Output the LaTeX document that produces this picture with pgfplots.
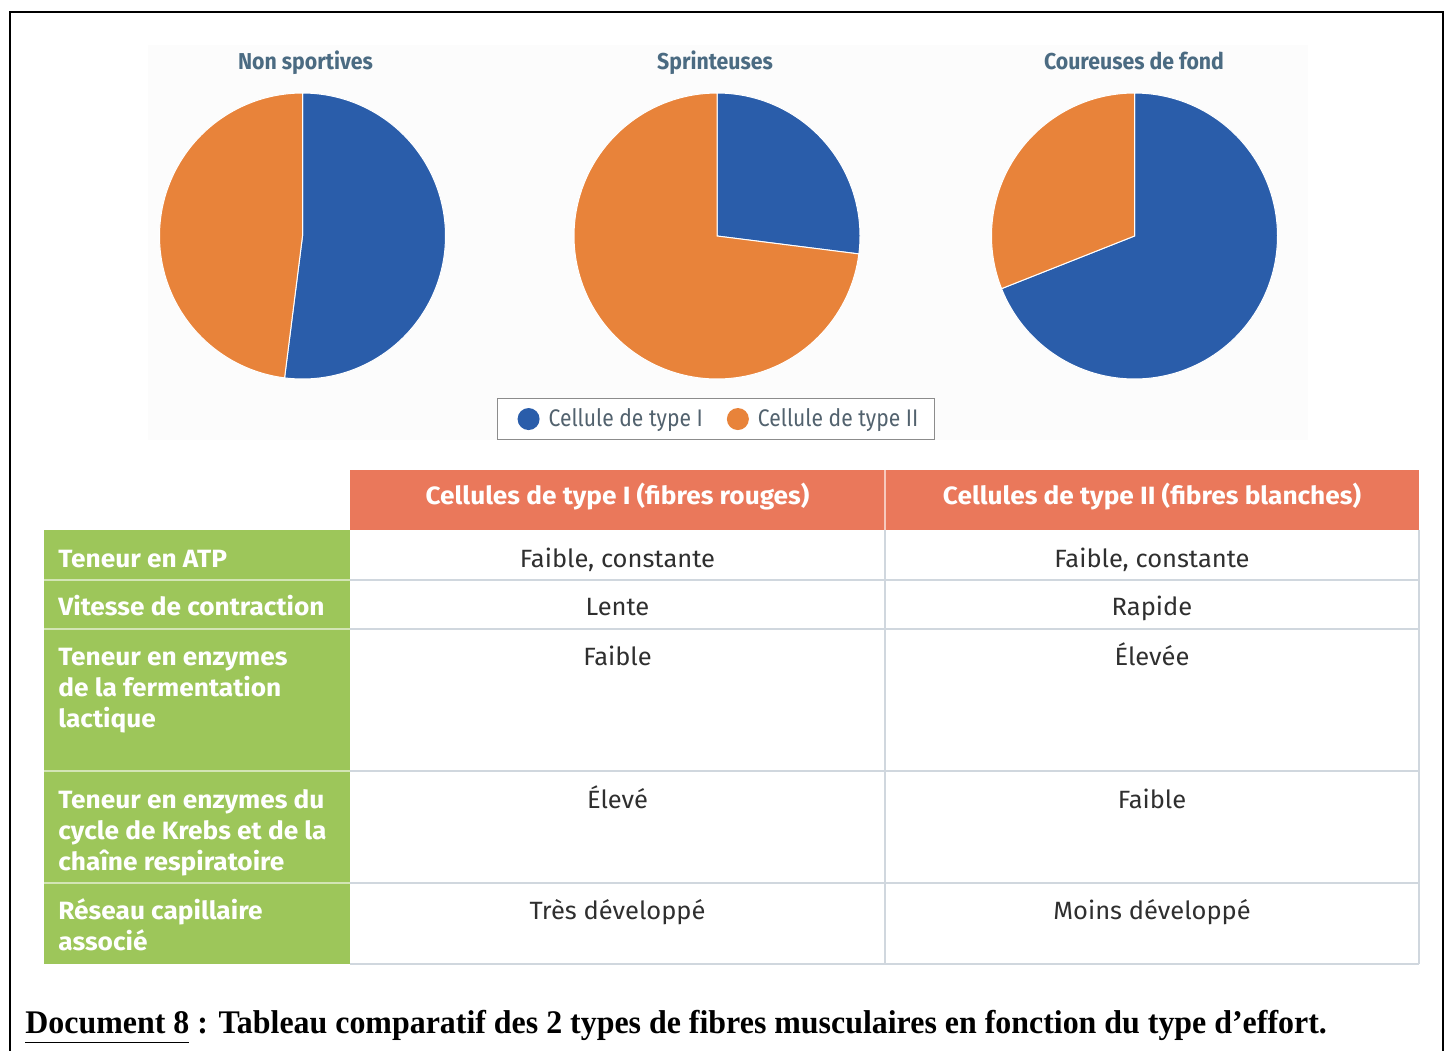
\documentclass[border=0pt]{standalone}
\usepackage{pgfplots}
\pgfplotsset{compat=1.18}
\usepackage{pgfplotstable}
\usepackage{graphicx}
\usepackage{fontspec}
\setmainfont{Fira Sans}
\newfontfamily\capfont{Liberation Serif}
\definecolor{pieblue}{HTML}{2A5DAA}
\definecolor{pieorange}{HTML}{E8833A}
\definecolor{titlecol}{HTML}{4B6B82}
\definecolor{headcol}{HTML}{EA785B}
\definecolor{greencol}{HTML}{9DC65A}
\definecolor{gridcol}{HTML}{D0D7DE}
\definecolor{bodycol}{HTML}{2F2F2F}
\definecolor{legendgray}{HTML}{8C8C8C}
\definecolor{legendtext}{HTML}{52626E}
\newcommand\sx[2]{\scalebox{#1}[1]{#2}}

\pgfplotstableread{
group        typeI typeII
NonSportives 52    48
Sprinteuses  27    73
Coureuses    69    31
}\piedata

\pgfplotsset{pie/.style={hide axis, scale only axis, width=143pt, height=143pt,
  xmin=-1, xmax=1, ymin=-1, ymax=1, clip=false, anchor=center}}

\begin{document}
\begin{tikzpicture}
\pgfplotstablegetelem{0}{typeI}\of\piedata \pgfmathsetmacro\aA{90-3.6*\pgfplotsretval}
\pgfplotstablegetelem{0}{typeII}\of\piedata \pgfmathsetmacro\bA{90+3.6*\pgfplotsretval}
\pgfplotstablegetelem{1}{typeI}\of\piedata \pgfmathsetmacro\aB{90-3.6*\pgfplotsretval}
\pgfplotstablegetelem{1}{typeII}\of\piedata \pgfmathsetmacro\bB{90+3.6*\pgfplotsretval}
\pgfplotstablegetelem{2}{typeI}\of\piedata \pgfmathsetmacro\aC{90-3.6*\pgfplotsretval}
\pgfplotstablegetelem{2}{typeII}\of\piedata \pgfmathsetmacro\bC{90+3.6*\pgfplotsretval}

\begin{scope}[x=0.5pt,y=-0.5pt]
\path[use as bounding box] (0,0) rectangle (1451,1050);
\fill[white] (0,0) rectangle (1451,1050);
% outer frame
\draw[black, line width=1.1pt] (10,1060) -- (10,12) -- (1443,12) -- (1443,1060);
% faint background of pie area
\fill[black!1] (148,45) rectangle (1308,440);
% titles
\node[anchor=base, text=titlecol, font=\bfseries\fontsize{11.5}{13}\selectfont] at (305.5,69) {\sx{0.925}{Non sportives}};
\node[anchor=base, text=titlecol, font=\bfseries\fontsize{11.5}{13}\selectfont] at (715,69) {\sx{0.925}{Sprinteuses}};
\node[anchor=base, text=titlecol, font=\bfseries\fontsize{11.5}{13}\selectfont] at (1134,69) {\sx{0.925}{Coureuses de fond}};
% table background
\fill[white] (350,530) rectangle (1419,964);
\fill[headcol] (350,470) rectangle (1419,530);
\fill[greencol] (44,530) rectangle (350,964);
\foreach \yy in {580,629,771,883}{
  \draw[white!55!greencol, line width=1.1pt] (44,\yy) -- (350,\yy);
}
\foreach \yy in {580,629,771,883,964}{
  \draw[gridcol, line width=1.1pt] (350,\yy) -- (1419,\yy);
}
\draw[gridcol, line width=1.1pt] (885,530) -- (885,964);
\draw[gridcol, line width=1.1pt] (1419,530) -- (1419,964);
\draw[white!60!headcol, line width=1pt] (885,470) -- (885,530);
% header text
\node[anchor=base, text=white, font=\bfseries\fontsize{12.5}{14}\selectfont] at (617.5,504) {\sx{1.05}{Cellules de type I (fibres rouges)}};
\node[anchor=base, text=white, font=\bfseries\fontsize{12.5}{14}\selectfont] at (1152,504) {\sx{1.05}{Cellules de type II (fibres blanches)}};
% row labels
\begin{scope}[every node/.style={anchor=base west, inner sep=0pt, text=white, font=\bfseries\fontsize{12.5}{14}\selectfont}]
\node at (58,567) {\sx{1.05}{Teneur en ATP}};
\node at (58,615) {\sx{1.05}{Vitesse de contraction}};
\node at (58,665) {\sx{1.05}{Teneur en enzymes}};
\node at (58,696) {\sx{1.05}{de la fermentation}};
\node at (58,727) {\sx{1.05}{lactique}};
\node at (58,808) {\sx{1.05}{Teneur en enzymes du}};
\node at (58,839) {\sx{1.05}{cycle de Krebs et de la}};
\node at (58,870) {\sx{1.05}{chaîne respiratoire}};
\node at (58,919) {\sx{1.05}{Réseau capillaire}};
\node at (58,950) {\sx{1.05}{associé}};
\end{scope}
% body text
\begin{scope}[every node/.style={anchor=base, text=bodycol, font=\fontsize{12.5}{14}\selectfont}]
\node at (617.5,567) {\sx{1.02}{Faible, constante}};
\node at (1152,567) {\sx{1.02}{Faible, constante}};
\node at (617.5,615) {\sx{1.02}{Lente}};
\node at (1152,615) {\sx{1.02}{Rapide}};
\node at (617.5,665) {\sx{1.02}{Faible}};
\node at (1152,665) {\sx{1.02}{Élevée}};
\node at (617.5,808) {\sx{1.02}{Élevé}};
\node at (1152,808) {\sx{1.02}{Faible}};
\node at (617.5,919) {\sx{1.02}{Très développé}};
\node at (1152,919) {\sx{1.02}{Moins développé}};
\end{scope}
% caption
\node[anchor=base west, inner sep=0pt, font=\capfont\bfseries\fontsize{16.5}{18}\selectfont] at (25,1033)
  {\sx{0.967}{\underline{Document 8\vphantom{p}} : Tableau comparatif des 2 types de fibres musculaires en fonction du type d’effort.}};
\end{scope}

% pie 1
\begin{axis}[pie, at={(151.25pt,-118pt)}]
\addplot[forget plot, fill=pieblue, draw=white, line width=0.5pt, domain=\aA:90, samples=120] ({cos(x)},{sin(x)}) -- (0,0) -- cycle;
\addplot[forget plot, fill=pieorange, draw=white, line width=0.5pt, domain=90:\bA, samples=120] ({cos(x)},{sin(x)}) -- (0,0) -- cycle;
\end{axis}
% pie 2 with legend
\begin{axis}[pie, at={(358.5pt,-118pt)},
  legend columns=2,
  legend style={at={(0.4965,-0.14)}, anchor=center, draw=legendgray, line width=0.8pt, fill=white,
    text=legendtext, font=\fontsize{12}{14}\selectfont, inner xsep=6pt, inner ysep=3pt,
    /tikz/every even column/.append style={column sep=6pt}},
  legend cell align=left]
\addlegendimage{legend image code/.code={\path[draw=none, fill=none] (0,0) -- (17.5pt,0); \fill[pieblue, draw=none] (9.5pt,0) circle (5.5pt);}}
\addlegendentry{\sx{0.88}{Cellule de type I}}
\addlegendimage{legend image code/.code={\path[draw=none, fill=none] (0,0) -- (17.5pt,0); \fill[pieorange, draw=none] (9.5pt,0) circle (5.5pt);}}
\addlegendentry{\sx{0.88}{Cellule de type II}}
\addplot[forget plot, fill=pieblue, draw=white, line width=0.5pt, domain=\aB:90, samples=120] ({cos(x)},{sin(x)}) -- (0,0) -- cycle;
\addplot[forget plot, fill=pieorange, draw=white, line width=0.5pt, domain=90:\bB, samples=120] ({cos(x)},{sin(x)}) -- (0,0) -- cycle;
\end{axis}
% pie 3
\begin{axis}[pie, at={(567.25pt,-118pt)}]
\addplot[forget plot, fill=pieblue, draw=white, line width=0.5pt, domain=\aC:90, samples=120] ({cos(x)},{sin(x)}) -- (0,0) -- cycle;
\addplot[forget plot, fill=pieorange, draw=white, line width=0.5pt, domain=90:\bC, samples=120] ({cos(x)},{sin(x)}) -- (0,0) -- cycle;
\end{axis}
\end{tikzpicture}
\end{document}
